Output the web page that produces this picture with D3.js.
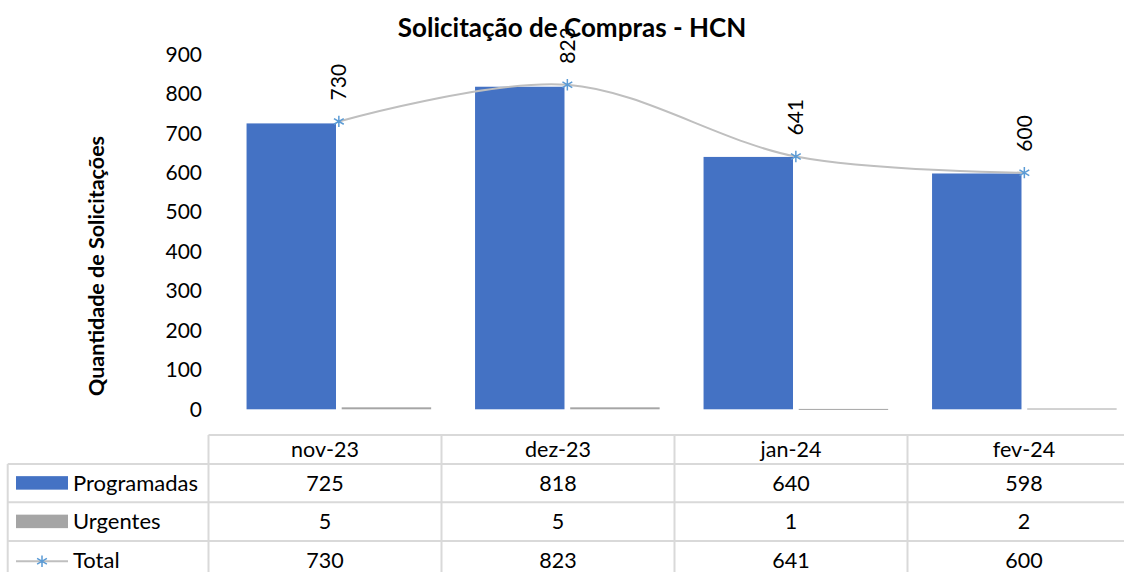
<!DOCTYPE html>
<html>
<head>
<meta charset="utf-8">
<script src="https://cdn.jsdelivr.net/npm/d3@7"></script>
<style>
  body { margin: 0; background: #fff; }
  text { font-family: Lato, "Noto Sans", sans-serif; fill: #000; }
</style>
</head>
<body>
<svg id="chart" width="1124" height="572"></svg>
<script>
// Monthly purchase requests
const categories = ["nov-23", "dez-23", "jan-24", "fev-24"];
const programadas = [725, 818, 640, 598];
const urgentes = [5, 5, 1, 2];
const total = [730, 823, 641, 600];
const yTicks = [0, 100, 200, 300, 400, 500, 600, 700, 800, 900];
const barSeries = ["Programadas", "Urgentes"];
const chartTitle = "Solicitação de Compras - HCN";
const yTitle = "Quantidade de Solicitações";

const colors = { Programadas: "#4472c4", Urgentes: "#a5a5a5", Total: "#bfbfbf", marker: "#5b9bd5" };
const gridColor = "#d9d9d9";

const svg = d3.select("#chart");

// scales for the plot area
const x = d3.scaleBand().domain(categories).range([224.6, 1138.6]).padding(0);
const x1 = d3.scaleBand().domain(barSeries).range([-92.3, 92.3]).paddingInner(0.06);
const y = d3.scaleLinear().domain([0, 900]).range([409.3, 54.4]);
const cx = c => x(c) + x.bandwidth() / 2;

// title
svg.append("text")
  .attr("x", 572).attr("y", 37)
  .attr("text-anchor", "middle")
  .style("font-weight", "bold").style("font-size", "26px")
  .text(chartTitle);

// y axis title
svg.append("text")
  .attr("transform", "translate(104,266) rotate(-90)")
  .attr("text-anchor", "middle")
  .style("font-weight", "bold").style("font-size", "21.5px")
  .text(yTitle);

// y axis labels (no line, no ticks)
const yAxis = d3.axisLeft(y).tickValues(yTicks).tickSize(0).tickPadding(0);
const gy = svg.append("g").attr("transform", "translate(202,0)").call(yAxis);
gy.select(".domain").remove();
gy.selectAll("text")
  .style("font-family", "Lato, 'Noto Sans', sans-serif")
  .style("font-size", "21px").attr("fill", "#000");

// bars
const rows = categories.map((c, i) => ({ c, Programadas: programadas[i], Urgentes: urgentes[i] }));
const groups = svg.append("g").selectAll("g").data(rows).join("g")
  .attr("transform", d => `translate(${cx(d.c)},0)`);
groups.selectAll("rect")
  .data(d => barSeries.map(k => ({ k, v: d[k] })))
  .join("rect")
  .attr("x", d => x1(d.k))
  .attr("width", x1.bandwidth())
  .attr("y", d => y(d.v))
  .attr("height", d => Math.max(1, y(0) - y(d.v)))
  .attr("fill", d => colors[d.k]);

// total line, smoothed
const pts = categories.map((c, i) => ({ c, v: total[i] }));
const line = d3.line().x(d => cx(d.c)).y(d => y(d.v)).curve(d3.curveCardinal.tension(0));
svg.append("path").datum(pts)
  .attr("d", line)
  .attr("fill", "none")
  .attr("stroke", colors.Total)
  .attr("stroke-width", 2);

const star = d3.symbol().type(d3.symbolAsterisk).size(90);
svg.append("g").selectAll("path").data(pts).join("path")
  .attr("transform", d => `translate(${cx(d.c)},${y(d.v)})`)
  .attr("d", star)
  .attr("fill", "none")
  .attr("stroke", colors.marker)
  .attr("stroke-width", 1.5);

// rotated value labels
svg.append("g").selectAll("text").data(pts).join("text")
  .attr("transform", d => `translate(${cx(d.c)},${y(d.v) - 21}) rotate(-90)`)
  .attr("text-anchor", "start")
  .attr("dy", "0.35em")
  .style("font-size", "21px")
  .text(d => d.v);

// data table
const tx = d3.scaleBand().domain(categories).range([208.5, 1140.5]).padding(0);
const rowTops = [435, 464, 502.3, 541, 579.5];
const tableLeft = 7.7, labelRight = 208.5, tableRight = 1124;
const tbl = svg.append("g").attr("stroke", gridColor).attr("stroke-width", 2);
// horizontal lines
tbl.append("line").attr("x1", labelRight).attr("x2", tableRight).attr("y1", rowTops[0]).attr("y2", rowTops[0]);
rowTops.slice(1).forEach(yy => {
  tbl.append("line").attr("x1", tableLeft).attr("x2", tableRight).attr("y1", yy).attr("y2", yy);
});
// vertical lines
tbl.append("line").attr("x1", tableLeft).attr("x2", tableLeft).attr("y1", rowTops[1]).attr("y2", 572);
categories.forEach(c => {
  tbl.append("line").attr("x1", tx(c)).attr("x2", tx(c)).attr("y1", rowTops[0]).attr("y2", 572);
});

const tcx = c => tx(c) + tx.bandwidth() / 2;
const midY = i => (rowTops[i] + rowTops[i + 1]) / 2;

// header
svg.append("g").selectAll("text").data(categories).join("text")
  .attr("x", tcx).attr("y", midY(0)).attr("dy", "0.35em")
  .attr("text-anchor", "middle").style("font-size", "21.5px")
  .text(d => d);

const tableRows = [
  { name: "Programadas", values: programadas },
  { name: "Urgentes", values: urgentes },
  { name: "Total", values: total }
];
tableRows.forEach((r, ri) => {
  const yy = midY(ri + 1);
  svg.append("g").selectAll("text").data(r.values).join("text")
    .attr("x", (d, i) => tcx(categories[i])).attr("y", yy).attr("dy", "0.35em")
    .attr("text-anchor", "middle").style("font-size", "21.5px")
    .text(d => d);
  svg.append("text")
    .attr("x", 73).attr("y", yy).attr("dy", "0.35em")
    .style("font-size", "22px")
    .text(r.name);
  // legend keys
  if (r.name === "Total") {
    svg.append("line").attr("x1", 16).attr("x2", 68).attr("y1", yy + 1).attr("y2", yy + 1)
      .attr("stroke", colors.Total).attr("stroke-width", 2);
    svg.append("path").attr("transform", `translate(42,${yy + 1})`)
      .attr("d", star).attr("fill", "none").attr("stroke", colors.marker).attr("stroke-width", 1.5);
  } else {
    svg.append("rect").attr("x", 16).attr("y", yy - 7).attr("width", 52).attr("height", 13.5)
      .attr("fill", colors[r.name]);
  }
});
</script>
</body>
</html>
